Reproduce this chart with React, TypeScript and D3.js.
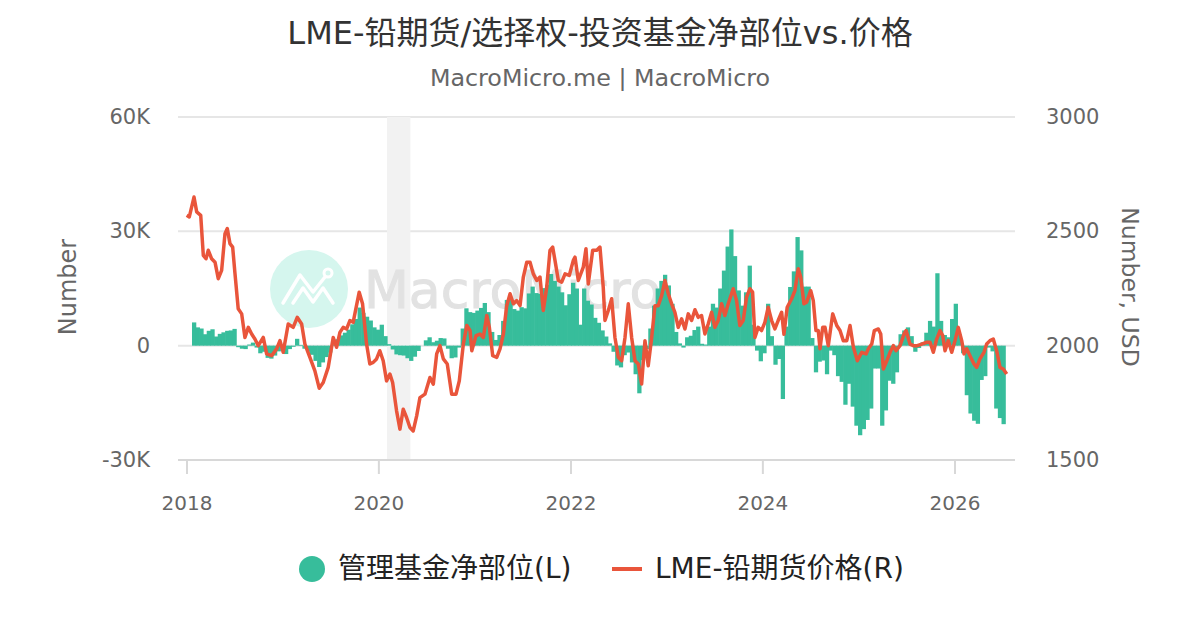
import * as React from 'react';
import {scaleLinear, scaleTime, line, timeDay} from 'd3';

// weekly COT data sampled every two weeks, in thousands of contracts
const barStart = new Date(2018, 0, 27);
const barStepDays = 14;
const netPositionK = [
    6.1, 4.8, 4.5, 3.0, 3.9, 4.3, 2.4, 3.1, 3.5, 3.9,
    4.0, 4.4, -0.4, -0.8, -0.9, 0.3, 0.8, -0.5, -2.0, -1.6,
    -3.2, -3.4, -2.6, -1.5, -0.5, -2.2, -0.9, -0.3, 1.8, 0.2,
    -0.8, -1.6, -2.4, -4.0, -5.6, -4.4, -3.0, -1.8, 0.2, 1.7,
    2.7, 3.4, 4.2, 5.6, 7.0, 10.0, 8.6, 7.6, 6.6, 4.8,
    4.2, 5.5, 2.5, 0.4, -1.0, -2.3, -2.5, -2.6, -3.3, -4.0,
    -2.9, -1.4, 0, 1.4, 2.2, 0.9, 1.3, 2.0, 1.9, -0.8,
    -3.3, -3.1, -0.5, 4.5, 9.8, 8.8, 8.6, 9.2, 9.9, 11.2,
    8.8, 3.6, 1.5, 2.8, 6.5, 12.0, 12.0, 9.6, 9.2, 10.1,
    9.8, 13.7, 15.5, 13.8, 13.6, 15.1, 16.0, 18.8, 17.0, 15.5,
    14.0, 10.6, 13.5, 16.5, 15.0, 5.5, 15.0, 11.8, 10.8, 7.3,
    6.0, 4.0, 2.4, 0.6, -1.6, -5.2, -5.7, -2.5, -1.8, -4.4,
    -7.5, -12.5, -3.8, -0.9, 4.5, 10.5, 15.0, 17.0, 18.6, 15.8,
    11.0, 3.6, 0.6, -0.5, 2.2, 2.6, 4.1, 5.0, 0.5, 0.3,
    5.0, 11.0, 10.0, 15.0, 19.7, 26.0, 30.5, 23.5, 14.5, 10.5,
    14.0, 21.0, 5.5, -1.3, -4.1, -2.0, 11.0, 2.5, -5.0, -3.5,
    -14.0, 5.0, 15.4, 19.5, 28.5, 25.0, 15.5, 15.5, 2.0, -7.0,
    -4.2, -3.9, -7.5, -1.3, -2.5, -8.0, -9.5, -15.5, -10.0, -16.0,
    -21.0, -23.5, -21.9, -19.5, -16.5, -6.0, -6.0, -21.0, -17.0, -9.2,
    -10.0, -7.0, 3.0, 4.0, 4.8, 2.5, -1.6, -0.6, 0.9, 3.4,
    6.5, 5.0, 19.0, 6.5, 2.8, 2.2, 7.0, 11.0, 3.0, -2.0,
    -13.0, -17.8, -19.7, -20.5, -9.0, -8.0, -0.5, -1.5, -16.5, -19.0, -20.6,
];

// LME lead price, dates as decimal years
const priceYears = [
    2017.997, 2018.024, 2018.073, 2018.101, 2018.143, 2018.170, 2018.198, 2018.222, 2018.257, 2018.292,
    2018.326, 2018.361, 2018.396, 2018.420, 2018.448, 2018.476, 2018.500, 2018.534, 2018.570, 2018.604,
    2018.639, 2018.674, 2018.708, 2018.743, 2018.795, 2018.830, 2018.882, 2018.934, 2018.969, 2019.003,
    2019.055, 2019.107, 2019.149, 2019.195, 2019.229, 2019.281, 2019.333, 2019.378, 2019.420, 2019.472,
    2019.524, 2019.559, 2019.594, 2019.628, 2019.664, 2019.698, 2019.732, 2019.760, 2019.795, 2019.830,
    2019.872, 2019.906, 2019.941, 2019.976, 2020.010, 2020.045, 2020.080, 2020.115, 2020.143, 2020.184,
    2020.219, 2020.253, 2020.288, 2020.323, 2020.357, 2020.393, 2020.427, 2020.479, 2020.531, 2020.566,
    2020.601, 2020.635, 2020.670, 2020.711, 2020.757, 2020.802, 2020.836, 2020.878, 2020.914, 2020.948,
    2020.966, 2021.010, 2021.052, 2021.086, 2021.122, 2021.149, 2021.184, 2021.226, 2021.260, 2021.295,
    2021.330, 2021.365, 2021.399, 2021.434, 2021.469, 2021.503, 2021.539, 2021.573, 2021.607, 2021.643,
    2021.677, 2021.711, 2021.747, 2021.781, 2021.809, 2021.833, 2021.868, 2021.903, 2021.938, 2021.982,
    2022.024, 2022.042, 2022.076, 2022.128, 2022.156, 2022.180, 2022.226, 2022.268, 2022.302, 2022.336,
    2022.354, 2022.389, 2022.424, 2022.458, 2022.493, 2022.528, 2022.563, 2022.597, 2022.632, 2022.667,
    2022.701, 2022.736, 2022.771, 2022.805, 2022.841, 2022.875, 2022.909, 2022.945, 2022.979, 2023.014,
    2023.049, 2023.083, 2023.118, 2023.153, 2023.188, 2023.222, 2023.257, 2023.292, 2023.326, 2023.361,
    2023.396, 2023.430, 2023.466, 2023.500, 2023.534, 2023.570, 2023.604, 2023.639, 2023.691, 2023.726,
    2023.760, 2023.795, 2023.830, 2023.865, 2023.893, 2023.917, 2023.951, 2023.986, 2024.021, 2024.055,
    2024.091, 2024.125, 2024.159, 2024.195, 2024.219, 2024.253, 2024.299, 2024.333, 2024.368, 2024.393,
    2024.427, 2024.455, 2024.497, 2024.524, 2024.552, 2024.576, 2024.594, 2024.622, 2024.646, 2024.680,
    2024.726, 2024.768, 2024.802, 2024.836, 2024.872, 2024.906, 2024.941, 2024.982, 2025.028, 2025.073,
    2025.097, 2025.132, 2025.159, 2025.201, 2025.226, 2025.253, 2025.289, 2025.323, 2025.357, 2025.385,
    2025.427, 2025.469, 2025.490, 2025.531, 2025.566, 2025.607, 2025.653, 2025.705, 2025.740, 2025.774,
    2025.809, 2025.844, 2025.872, 2025.896, 2025.930, 2025.966, 2026.000, 2026.034, 2026.070, 2026.094,
    2026.122, 2026.156, 2026.198, 2026.226, 2026.260, 2026.302, 2026.330, 2026.365, 2026.399, 2026.434,
    2026.469, 2026.503, 2026.539,
];
const priceValues = [
    2570, 2563, 2650, 2585, 2570, 2395, 2380, 2417, 2380, 2365,
    2293, 2329, 2490, 2512, 2446, 2431, 2316, 2161, 2139, 2036,
    2080, 2051, 2029, 2000, 2036, 1964, 1956, 1986, 2022, 1971,
    2095, 2080, 2124, 2095, 2007, 1949, 1890, 1814, 1839, 1905,
    2036, 1993, 2058, 2080, 2073, 2110, 2102, 2161, 2234, 2183,
    2007, 1920, 1927, 1942, 1978, 1934, 1846, 1876, 1839, 1715,
    1635, 1722, 1686, 1642, 1627, 1693, 1773, 1788, 1861, 1832,
    1964, 2000, 1942, 1920, 1788, 1788, 1846, 2007, 2088, 2066,
    1978, 2044, 2051, 2036, 2132, 2080, 1956, 1949, 1986, 2051,
    2175, 2227, 2183, 2197, 2175, 2300, 2365, 2365, 2314, 2285,
    2300, 2154, 2256, 2417, 2431, 2373, 2285, 2278, 2314, 2307,
    2373, 2387, 2285, 2343, 2424, 2270, 2417, 2417, 2431, 2256,
    2110, 2154, 2205, 2036, 1949, 1934, 2036, 2183, 2036, 1934,
    1920, 1832, 2022, 1912, 2036, 2175, 2175, 2219, 2285, 2227,
    2183, 2146, 2080, 2117, 2073, 2139, 2110, 2157, 2124, 2132,
    2051, 2095, 2146, 2080, 2110, 2183, 2132, 2183, 2249, 2197,
    2088, 2110, 2212, 2249, 2234, 2036, 2080, 2066, 2102, 2168,
    2110, 2073, 2110, 2146, 2050, 2168, 2205, 2241, 2336, 2300,
    2183, 2190, 2241, 2197, 2066, 2066, 1986, 2080, 2080, 2000,
    2139, 2088, 2066, 2022, 2022, 2088, 1993, 1934, 1971, 1964,
    1986, 2007, 2066, 2073, 2051, 1898, 1934, 1971, 2000, 1978,
    2000, 2051, 2066, 2007, 2000, 2000, 2007, 2015, 2015, 1971,
    2029, 2066, 2044, 1978, 2022, 1971, 2022, 2080, 2022, 1964,
    1986, 1956, 1920, 1905, 1942, 1971, 2007, 2022, 2029, 1978,
    1905, 1898, 1876,
];

const leftTicks = [-30000, 0, 30000, 60000];
const leftTickLabels = ['-30K', '0', '30K', '60K'];
const rightTicks = [1500, 2000, 2500, 3000];
const yearTicks = [2018, 2020, 2022, 2024, 2026];
const recessionBand = [new Date(2020, 1, 1), new Date(2020, 3, 30)];

const width = 1200;
const height = 630;
const plotLeft = 178;
const plotRight = 1015;
const plotTop = 117;
const plotBottom = 460;
const barColor = '#37bd9b';
const lineColor = '#e9553b';
const font = '"DejaVu Sans", "Noto Sans CJK SC", sans-serif';

const fromYear = (y: number) => {
    const yr = Math.floor(y);
    const s = new Date(yr, 0, 1).getTime();
    const e = new Date(yr + 1, 0, 1).getTime();
    return new Date(s + (y - yr) * (e - s));
};

const xScale = scaleTime()
    .domain([new Date(2018, 0, 1), new Date(2026, 0, 1)])
    .range([187, 955]);
const yLeft = scaleLinear().domain([-30000, 60000]).range([plotBottom, plotTop]);
const yRight = scaleLinear().domain([1500, 3000]).range([plotBottom, plotTop]);

const bars = netPositionK.map((v, i) => ({
    date: timeDay.offset(barStart, i * barStepDays),
    value: v * 1000,
}));
const prices = priceYears.map((y, i) => ({date: fromYear(y), value: priceValues[i]}));

const priceLine = line<{date: Date, value: number}>()
    .x(d => xScale(d.date))
    .y(d => yRight(d.value));

export default function App() {
    const barW = xScale(timeDay.offset(barStart, barStepDays)) - xScale(barStart);
    return (
        <div style={{position: 'absolute', left: 0, top: 0}}>
            <svg width={width} height={height} style={{display: 'block', fontFamily: font}}>
                <rect width={width} height={height} fill="#fff"/>
                <text x={600} y={44} textAnchor="middle" fontSize={32} fill="#333">
                    LME-铅期货/选择权-投资基金净部位vs.价格
                </text>
                <text x={600} y={86} textAnchor="middle" fontSize={23.8} fill="#666">
                    MacroMicro.me | MacroMicro
                </text>

                {leftTicks.slice(1).map(t =>
                    <line key={t} x1={plotLeft} x2={plotRight} y1={yLeft(t)} y2={yLeft(t)}
                          stroke="#e6e6e6" strokeWidth={2}/>
                )}

                <rect x={xScale(recessionBand[0])} y={plotTop}
                      width={xScale(recessionBand[1]) - xScale(recessionBand[0])}
                      height={plotBottom - plotTop} fill="#f2f2f2"/>

                {/* watermark */}
                <g>
                    <circle cx={309} cy={289} r={39} fill="#d5f6ee"/>
                    <polyline points="283,303 300,275 313,292 325,277" fill="none" stroke="#fff"
                              strokeWidth={3.5} strokeLinecap="round" strokeLinejoin="round"/>
                    <polyline points="293,303 303,288 313,302 323,288 333,303" fill="none" stroke="#fff"
                              strokeWidth={3.5} strokeLinecap="round" strokeLinejoin="round"/>
                    <circle cx={328} cy={273} r={4} fill="none" stroke="#fff" strokeWidth={3}/>
                    <text x={364} y={308} fontSize={52} fill="#e2e2e2" stroke="#e2e2e2" strokeWidth={1}>
                        MacroMicro
                    </text>
                </g>

                <line x1={plotLeft} x2={plotRight} y1={plotBottom} y2={plotBottom} stroke="#d8d8d8" strokeWidth={2}/>
                {yearTicks.map(y =>
                    <g key={y}>
                        <line x1={xScale(new Date(y, 0, 1))} x2={xScale(new Date(y, 0, 1))}
                              y1={plotBottom} y2={plotBottom + 14} stroke="#d8d8d8" strokeWidth={2}/>
                        <text x={xScale(new Date(y, 0, 1))} y={510} textAnchor="middle" fontSize={20}
                              fill="#666">{y}</text>
                    </g>
                )}

                {bars.map((b, i) =>
                    <rect key={i}
                          x={xScale(b.date) - barW / 2}
                          y={Math.min(yLeft(b.value), yLeft(0))}
                          width={barW + 0.6}
                          height={Math.abs(yLeft(b.value) - yLeft(0))}
                          fill={barColor}/>
                )}

                <path d={priceLine(prices) || ''} fill="none" stroke={lineColor} strokeWidth={3.5}
                      strokeLinejoin="round"/>

                {leftTicks.map((t, i) =>
                    <text key={t} x={150} y={yLeft(t) + 7} textAnchor="end" fontSize={21} fill="#666">
                        {leftTickLabels[i]}
                    </text>
                )}
                {rightTicks.map(t =>
                    <text key={t} x={1046} y={yRight(t) + 7} textAnchor="start" fontSize={21} fill="#666">
                        {t}
                    </text>
                )}
                <text transform="translate(76,287) rotate(-90)" textAnchor="middle" fontSize={24} fill="#666">
                    Number
                </text>
                <text transform="translate(1122,287) rotate(90)" textAnchor="middle" fontSize={23.5} fill="#666">
                    Number, USD
                </text>

                {/* legend */}
                <circle cx={312} cy={569} r={13} fill={barColor}/>
                <text x={338} y={578} fontSize={28} fill="#222">管理基金净部位(L)</text>
                <line x1={612} x2={642} y1={569} y2={569} stroke={lineColor} strokeWidth={4}/>
                <text x={655} y={578} fontSize={28} fill="#222">LME-铅期货价格(R)</text>
            </svg>
        </div>
    );
}
